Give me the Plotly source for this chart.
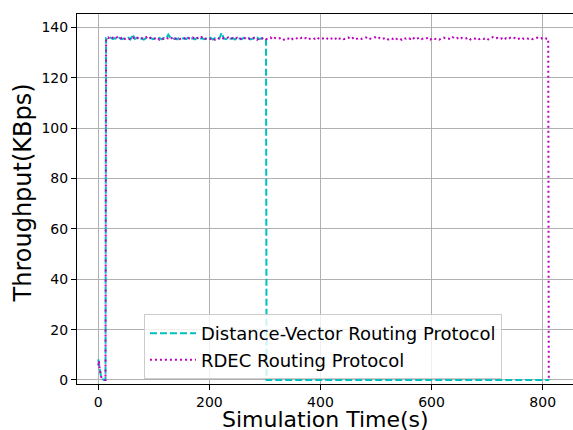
import plotly.graph_objects as go

# ---------------- data ----------------
# start-up phase, 1 s resolution
head_time = list(range(0, 14))
dv_head = [8.2, 6.5, 4.8, 3.2, 2.0, 1.2, 0.7, 0.4, 0.2, 0.1, 0.0, 0.0, 0.0, 0.0]
rdec_head = [5.8, 7.6, 5.2, 3.4, 2.2, 1.4, 0.9, 0.5, 0.3, 0.1, 0.0, 0.0, 0.0, 0.0]

# Distance-Vector plateau, sampled every 4 s from 14 s to 298 s
dv_body_time = list(range(14, 299, 4))
dv_body = [
    135.6, 135.2, 135.9, 135.4, 135.7, 135.1, 135.8, 135.3, 135.6, 135.5, 135.9, 135.2,
    137.2, 135.4, 135.8, 135.3, 135.6, 135.1, 135.7, 135.5, 135.9, 135.3, 135.6, 135.4,
    135.8, 135.2, 135.7, 135.5, 137.1, 135.9, 135.3, 135.6, 135.2, 135.8, 135.4, 135.7,
    135.3, 135.9, 135.5, 135.6, 135.2, 135.8, 135.4, 135.7, 135.3, 135.6, 135.5, 135.9,
    135.2, 135.7, 135.4, 135.5, 137.9, 135.6, 135.3, 135.8, 135.5, 135.7, 135.2, 135.9,
    135.6, 135.3, 135.8, 135.5, 135.7, 135.2, 135.6, 135.4, 135.9, 135.3, 135.7, 135.5,
]
dv_tail_time = [302, 303, 812]
dv_tail = [135.6, 0.0, 0.0]

# RDEC plateau, sampled every 4 s from 14 s to 810 s
rdec_body_time = list(range(14, 811, 4))
rdec_body = [
    135.4, 136.0, 135.2, 135.9, 135.5, 136.1, 135.3, 135.8, 135.1, 135.7,
    135.6, 135.2, 136.0, 135.4, 135.9, 135.3, 135.7, 135.5, 136.1, 135.2,
    135.8, 135.3, 135.6, 136.0, 135.1, 135.7, 135.4, 135.9, 135.5, 135.2,
    136.1, 135.4, 135.8, 135.3, 135.6, 135.9, 135.2, 135.7, 135.5, 136.0,
    135.3, 135.8, 135.4, 136.1, 135.2, 135.6, 135.9, 135.4, 135.7, 135.1,
    135.9, 135.5, 135.2, 135.8, 135.6, 136.0, 135.3, 135.7, 135.4, 135.9,
    135.2, 135.6, 136.1, 135.4, 135.8, 135.3, 135.5, 136.0, 135.1, 135.7,
    135.5, 135.9, 135.3, 135.6, 136.0, 135.2, 135.8, 135.4, 135.7, 135.9,
    135.1, 135.7, 135.5, 136.1, 135.3, 135.8, 135.6, 135.2, 135.9, 135.4,
    135.8, 135.2, 135.6, 135.9, 135.4, 136.0, 135.3, 135.7, 135.5, 135.1,
    135.9, 135.4, 135.7, 135.2, 136.1, 135.5, 135.8, 135.3, 135.6, 136.0,
    135.3, 135.8, 135.1, 135.6, 135.9, 135.4, 135.7, 136.0, 135.2, 135.5,
    135.7, 136.1, 135.4, 135.8, 135.3, 135.6, 135.9, 135.2, 135.7, 135.4,
    136.0, 135.3, 135.6, 135.1, 135.8, 135.5, 135.9, 135.4, 136.1, 135.2,
    135.6, 135.9, 135.3, 135.7, 135.5, 136.0, 135.2, 135.8, 135.4, 135.6,
    135.1, 135.7, 135.9, 135.4, 135.6, 135.3, 136.1, 135.5, 135.8, 135.2,
    135.8, 135.4, 135.6, 136.0, 135.2, 135.7, 135.5, 135.9, 135.3, 135.6,
    135.4, 135.9, 135.2, 135.7, 136.1, 135.5, 135.8, 135.3, 135.6, 135.0,
    135.7, 135.3, 135.9, 135.5, 135.8, 135.2, 135.6, 136.0, 135.4, 135.7,
    135.5, 135.8, 135.3, 135.6, 135.9, 135.4, 135.7, 135.2, 135.6, 135.4,
]
rdec_tail_time = [811]
rdec_tail = [0.0]

x_ticks = [0, 200, 400, 600, 800]
y_ticks = [0, 20, 40, 60, 80, 100, 120, 140]

series_names = ["Distance-Vector Routing Protocol", "RDEC Routing Protocol"]
x_title = "Simulation Time(s)"
y_title = "Throughput(KBps)"

# ---------------- figure ----------------
dv_x = head_time + dv_body_time + dv_tail_time
dv_y = dv_head + dv_body + dv_tail
rdec_x = head_time + rdec_body_time + rdec_tail_time
rdec_y = rdec_head + rdec_body + rdec_tail

fig = go.Figure()
fig.add_trace(go.Scatter(
    x=dv_x, y=dv_y, mode="lines", name=series_names[0],
    line=dict(color="#00BFBF", width=2, dash="7px,3px"),
))
fig.add_trace(go.Scatter(
    x=rdec_x, y=rdec_y, mode="lines", name=series_names[1],
    line=dict(color="#BF00BF", width=2, dash="2px,3px"),
))

font_family = "DejaVu Sans"
fig.update_layout(
    width=573, height=430,
    margin=dict(l=77, r=0, t=14, b=46, autoexpand=False),
    paper_bgcolor="white", plot_bgcolor="white",
    font=dict(family=font_family, color="black", size=14),
    showlegend=True,
    legend=dict(
        x=0.135, y=0.101, xanchor="left", yanchor="middle",
        bgcolor="rgba(255,255,255,0.8)", bordercolor="#cccccc", borderwidth=1,
        font=dict(family=font_family, size=18, color="black"),
        tracegroupgap=0, itemwidth=46,
    ),
    annotations=[
        dict(text=x_title, xref="paper", yref="paper", x=0.5, y=0,
             xanchor="center", yanchor="middle", yshift=-35, showarrow=False,
             font=dict(size=22, family=font_family, color="black")),
        dict(text=y_title, xref="paper", yref="paper", x=0, y=0.515,
             xanchor="center", yanchor="middle", xshift=-54, textangle=-90,
             showarrow=False,
             font=dict(size=24, family=font_family, color="black")),
    ],
)
fig.update_xaxes(
    range=[-38.3, 854.6], tickvals=x_ticks, ticktext=[str(v) for v in x_ticks],
    showgrid=True, gridcolor="#b0b0b0", gridwidth=1.2,
    showline=True, linecolor="black", linewidth=1, mirror=True,
    ticks="outside", ticklen=5, tickwidth=1, tickcolor="black",
    zeroline=False, automargin=False,
)
fig.update_yaxes(
    range=[-1.6, 145.3], tickvals=y_ticks, ticktext=[str(v) for v in y_ticks],
    showgrid=True, gridcolor="#b0b0b0", gridwidth=1.2,
    showline=True, linecolor="black", linewidth=1, mirror=False,
    ticks="outside", ticklen=5, tickwidth=1, tickcolor="black",
    zeroline=False, automargin=False,
)

fig.write_html(
    "out.html",
    config={"displayModeBar": False},
    post_script="document.body.style.margin='0';document.body.style.padding='0';",
)
